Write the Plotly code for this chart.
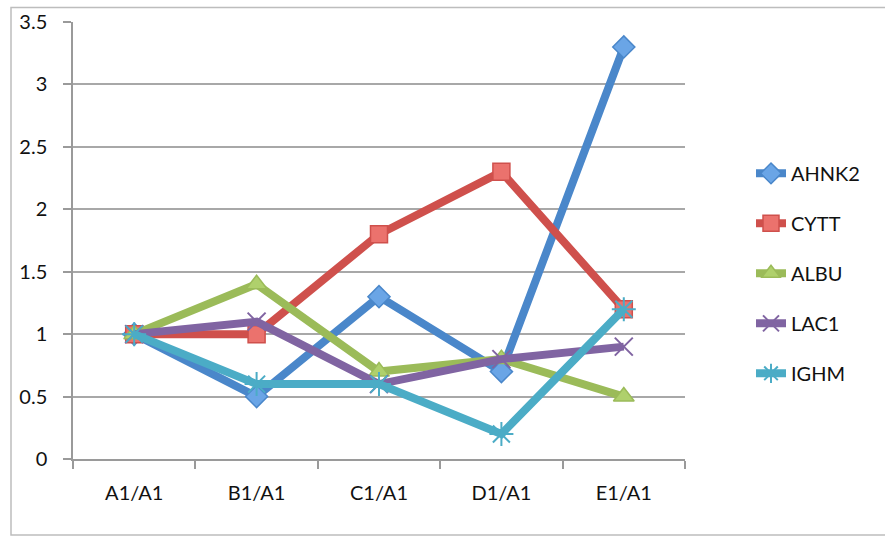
import plotly.graph_objects as go

# Ratios of each sample relative to A1
categories = ["A1/A1", "B1/A1", "C1/A1", "D1/A1", "E1/A1"]
ahnk2 = [1.0, 0.5, 1.3, 0.7, 3.3]
cytt = [1.0, 1.0, 1.8, 2.3, 1.2]
albu = [1.0, 1.4, 0.7, 0.8, 0.5]
lac1 = [1.0, 1.1, 0.6, 0.8, 0.9]
ighm = [1.0, 0.6, 0.6, 0.2, 1.2]
y_ticks = [0, 0.5, 1, 1.5, 2, 2.5, 3, 3.5]
y_tick_text = ["0", "0.5", "1", "1.5", "2", "2.5", "3", "3.5"]

series = [
    ("AHNK2", ahnk2, "#4A87CA", "#6AA5E6", "diamond", 17, 1.5),
    ("CYTT", cytt, "#CF504C", "#EB726D", "square", 17, 1.5),
    ("ALBU", albu, "#9BBB59", "#AFD06C", "triangle-up", 18, 1.5),
    ("LAC1", lac1, "#8064A2", "#8064A2", "x-thin-open", 18, 2),
    ("IGHM", ighm, "#4BACC6", "#4BACC6", "asterisk-open", 20, 2),
]

FONT = "Lato"

fig = go.Figure()
for i, (name, vals, line_c, fill_c, sym, size, mlw) in enumerate(series):
    fig.add_trace(go.Scatter(
        x=categories, y=vals, name=name, mode="lines+markers",
        legendgroup=f"g{i}",
        line=dict(color=line_c, width=8),
        marker=dict(symbol=sym, size=size, color=fill_c,
                    line=dict(color=line_c, width=mlw)),
    ))

# plot area spans x 73..685 px, y 21.5..459 px
W, H = 885, 536
L, R, T, B = 73, 685, 21.5, 459
pw, ph = R - L, B - T


def px_x(x):
    return (x - L) / pw


def px_y(y):
    return (B - y) / ph


# chart frame (its right edge runs past the page)
fig.add_shape(type="rect", xref="paper", yref="paper",
              x0=px_x(11), x1=px_x(900), y0=px_y(535), y1=px_y(7),
              line=dict(color="#BDBDBD", width=1.5), fillcolor="rgba(0,0,0,0)",
              layer="below")

fig.update_layout(
    width=W, height=H,
    margin=dict(l=L, r=W - R, t=T, b=H - B, autoexpand=False),
    paper_bgcolor="white", plot_bgcolor="white",
    font=dict(family=FONT, size=20, color="#111111"),
    showlegend=True,
    legend=dict(x=px_x(751), y=px_y(153.5), xanchor="left", yanchor="top",
                font=dict(size=20, family=FONT), tracegroupgap=21,
                traceorder="grouped", bgcolor="rgba(0,0,0,0)"),
    xaxis=dict(type="category", range=[-0.5, 4.5], showgrid=False,
               showline=True, linecolor="#9A9A9A", linewidth=1.5,
               ticks="outside", tickson="boundaries", ticklen=8,
               tickcolor="#9A9A9A", tickwidth=1.5, ticklabelstandoff=15,
               tickfont=dict(size=20, family=FONT), zeroline=False),
    yaxis=dict(range=[0, 3.5], tickvals=y_ticks, ticktext=y_tick_text,
               showgrid=True, gridcolor="#A8A8A8", gridwidth=1.5,
               showline=True, linecolor="#9A9A9A", linewidth=1.5,
               ticks="outside", ticklen=8, tickcolor="#9A9A9A", tickwidth=1.5,
               ticklabelstandoff=12, tickfont=dict(size=20, family=FONT),
               zeroline=False),
)

fig.write_html("out.html")
